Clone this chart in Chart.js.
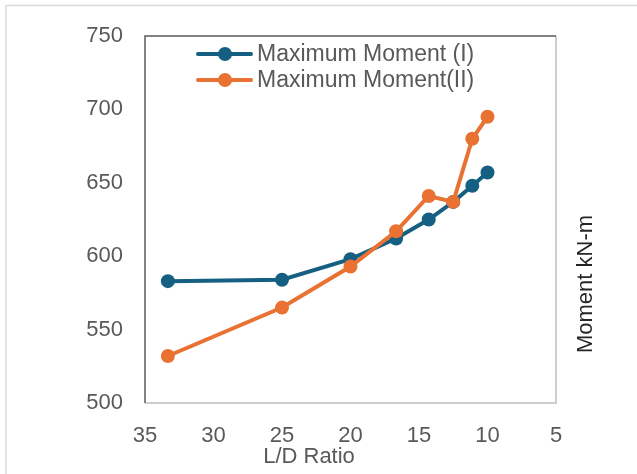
<!DOCTYPE html>
<html lang="en">
<head>
    <meta charset="UTF-8">
    <title>Maximum Moment vs L/D Ratio</title>
    <script src="https://cdn.jsdelivr.net/npm/chart.js@4.4.0/dist/chart.umd.min.js"></script>
    <style>
        body {
            margin: 0;
            background: #FFFFFF;
        }
        #chart {
            display: block;
        }
    </style>
</head>
<body>
    <canvas id="chart" width="637" height="474"></canvas>

    <script>
        // L/D ratios (D = 3..10 for L = 100)
        const ldRatio = [33.33, 25, 20, 16.67, 14.29, 12.5, 11.11, 10];
        const momentI = [583, 584, 598, 612, 625, 637, 648, 657];
        const momentII = [532, 565, 593, 617, 641, 637, 680, 695];
        const seriesNames = ['Maximum Moment (I)', 'Maximum Moment(II)'];
        const xTicks = [35, 30, 25, 20, 15, 10, 5];
        const yTicks = [500, 550, 600, 650, 700, 750];

        const blue = '#156082';
        const orange = '#E97132';
        const textGray = '#595959';
        const fontFamily = '"Liberation Sans", Arial, sans-serif';

        function toPoints(ys) {
            return ldRatio.map((x, i) => ({ x: x, y: ys[i] }));
        }

        // frame, custom legend and axis titles
        const decorations = {
            id: 'decorations',
            beforeDraw(chart) {
                const ctx = chart.ctx;
                ctx.save();
                ctx.strokeStyle = '#D9D9D9';
                ctx.lineWidth = 1.5;
                ctx.beginPath();
                ctx.moveTo(6, 474);
                ctx.lineTo(6, 5.5);
                ctx.lineTo(637, 5.5);
                ctx.stroke();
                ctx.restore();
            },
            afterDraw(chart) {
                const ctx = chart.ctx;
                const a = chart.chartArea;
                ctx.save();
                // plot box
                ctx.lineWidth = 1.5;
                ctx.strokeStyle = '#BFBFBF';
                ctx.beginPath();
                ctx.moveTo(a.left, a.bottom);
                ctx.lineTo(a.right, a.bottom);
                ctx.lineTo(a.right, a.top);
                ctx.stroke();
                ctx.strokeStyle = '#595959';
                ctx.beginPath();
                ctx.moveTo(a.left, a.bottom);
                ctx.lineTo(a.left, a.top);
                ctx.lineTo(a.right, a.top);
                ctx.stroke();

                // legend
                ctx.font = '23px ' + fontFamily;
                ctx.textBaseline = 'middle';
                ctx.textAlign = 'left';
                const rows = [54, 80];
                const items = [chart.data.datasets.find(d => d.label === seriesNames[0]),
                               chart.data.datasets.find(d => d.label === seriesNames[1])];
                items.forEach((ds, i) => {
                    const y = rows[i];
                    ctx.strokeStyle = ds.borderColor;
                    ctx.lineWidth = 4;
                    ctx.lineCap = 'round';
                    ctx.beginPath();
                    ctx.moveTo(198, y);
                    ctx.lineTo(251, y);
                    ctx.stroke();
                    ctx.fillStyle = ds.backgroundColor;
                    ctx.beginPath();
                    ctx.arc(225, y, 7, 0, Math.PI * 2);
                    ctx.fill();
                    ctx.fillStyle = textGray;
                    ctx.fillText(ds.label, 257, y + 1);
                });

                // axis titles
                ctx.font = '22px ' + fontFamily;
                ctx.fillStyle = textGray;
                ctx.textAlign = 'center';
                ctx.textBaseline = 'middle';
                ctx.fillText('L/D Ratio', 309, 457);
                ctx.fillStyle = '#262626';
                ctx.translate(586, 284);
                ctx.rotate(-Math.PI / 2);
                ctx.fillText('Moment kN-m', 0, 0);
                ctx.restore();
            }
        };

        const ctx = document.getElementById('chart').getContext('2d');
        new Chart(ctx, {
            type: 'line',
            data: {
                datasets: [
                    {
                        label: seriesNames[1],
                        data: toPoints(momentII),
                        borderColor: orange,
                        backgroundColor: orange,
                        borderWidth: 4,
                        pointRadius: 7,
                        pointBorderWidth: 0,
                        tension: 0
                    },
                    {
                        label: seriesNames[0],
                        data: toPoints(momentI),
                        borderColor: blue,
                        backgroundColor: blue,
                        borderWidth: 4,
                        pointRadius: 7,
                        pointBorderWidth: 0,
                        tension: 0
                    }
                ]
            },
            options: {
                responsive: false,
                animation: false,
                layout: {
                    padding: { left: 0, top: 36, right: 81, bottom: 0 }
                },
                scales: {
                    x: {
                        type: 'linear',
                        reverse: true,
                        min: 5,
                        max: 35,
                        afterBuildTicks(scale) {
                            scale.ticks = xTicks.map(v => ({ value: v }));
                        },
                        afterFit(scale) {
                            scale.height = 71;
                        },
                        grid: { display: false, drawTicks: false },
                        border: { display: false },
                        ticks: {
                            color: textGray,
                            font: { size: 22, family: fontFamily },
                            padding: 20,
                            maxRotation: 0
                        }
                    },
                    y: {
                        min: 500,
                        max: 750,
                        afterBuildTicks(scale) {
                            scale.ticks = yTicks.map(v => ({ value: v }));
                        },
                        afterFit(scale) {
                            scale.width = 145;
                        },
                        grid: { display: false, drawTicks: false },
                        border: { display: false },
                        ticks: {
                            color: textGray,
                            font: { size: 22, family: fontFamily },
                            padding: 22
                        }
                    }
                },
                plugins: {
                    legend: { display: false },
                    tooltip: { enabled: false }
                }
            },
            plugins: [decorations]
        });
    </script>
</body>
</html>
